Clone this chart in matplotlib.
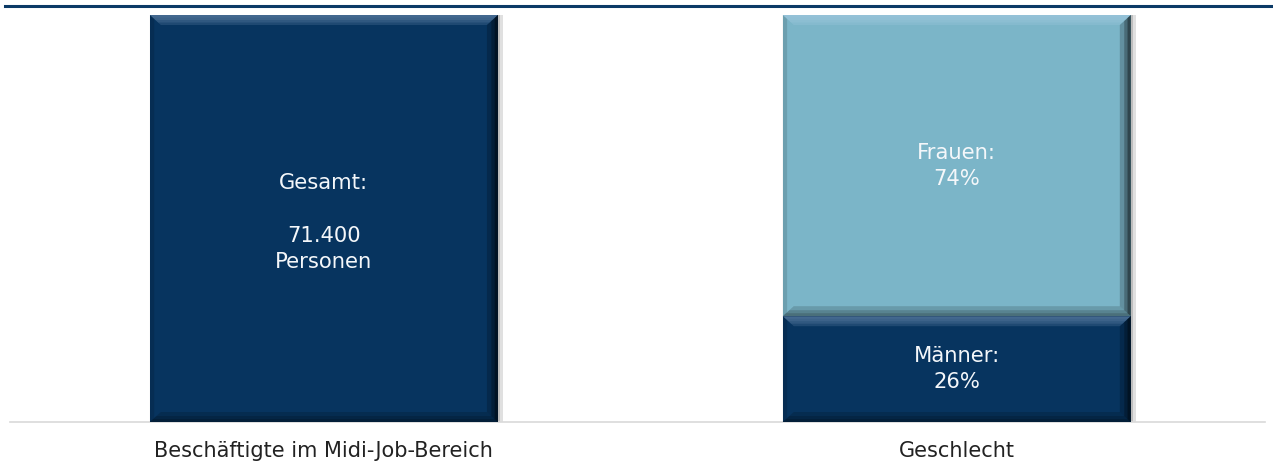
import matplotlib.pyplot as plt
from matplotlib.patches import Polygon, Rectangle
from matplotlib.lines import Line2D

# data
kategorien = ['Beschäftigte im Midi-Job-Bereich', 'Geschlecht']
gesamt = [100, 0]          # Anteil in %, linker Balken = alle
maenner = [0, 26]
frauen = [0, 74]
beschriftung_gesamt = 'Gesamt:\n\n71.400\nPersonen'
beschriftung_maenner = 'Männer:\n26%'
beschriftung_frauen = 'Frauen:\n74%'

navy = '#07345f'
hellblau = '#7bb5c8'

fig = plt.figure(figsize=(12.73, 4.67), dpi=100)
ax = fig.add_axes([10 / 1273, 45 / 467, 1255 / 1273, 407 / 467])

x = [0, 1]
breite = 0.55
b1 = ax.bar(x, gesamt, breite, color=navy, zorder=3)
b2 = ax.bar(x, maenner, breite, color=navy, zorder=3)
b3 = ax.bar(x, frauen, breite, bottom=maenner, color=hellblau, zorder=3)

ax.set_xlim(-0.496, 1.487)
ax.set_ylim(0, 100)

# bevel / shadow effect
px_x = 1.983 / 1255   # data units per pixel
px_y = 100 / 407


def bevel(rect):
    x0, y0 = rect.get_x(), rect.get_y()
    w, h = rect.get_width(), rect.get_height()
    if h <= 0:
        return
    x1, y1 = x0 + w, y0 + h
    bx, by = 11 * px_x, 10 * px_y
    # shadow right of the bar
    ax.add_patch(Rectangle((x1, y0), 5 * px_x, h, color='#000000', alpha=0.12, lw=0, zorder=2))
    ax.add_patch(Rectangle((x1, y0), 2.5 * px_x, h, color='#000000', alpha=0.15, lw=0, zorder=2))
    # top: lighter gradient
    for f, a in [(1.0, 0.12), (0.75, 0.10), (0.5, 0.08), (0.25, 0.05)]:
        ax.add_patch(Polygon([(x0, y1), (x1, y1), (x1 - bx * f, y1 - by * f), (x0 + bx * f, y1 - by * f)],
                             closed=True, color='#cfe3ff', alpha=a, lw=0, zorder=4))
    # bottom: darker
    for f, a in [(1.0, 0.15), (0.6, 0.15), (0.3, 0.15)]:
        ax.add_patch(Polygon([(x0, y0), (x1, y0), (x1 - bx * f, y0 + by * f), (x0 + bx * f, y0 + by * f)],
                             closed=True, color='#000000', alpha=a, lw=0, zorder=4))
    # right side: dark gradient
    for f, a in [(1.0, 0.2), (0.6, 0.25), (0.3, 0.35)]:
        ax.add_patch(Polygon([(x1, y0), (x1, y1), (x1 - bx * f, y1 - by * f), (x1 - bx * f, y0 + by * f)],
                             closed=True, color='#000000', alpha=a, lw=0, zorder=4))
    # left side: slightly dark edge
    ax.add_patch(Polygon([(x0, y0), (x0, y1), (x0 + bx * 0.4, y1 - by * 0.4), (x0 + bx * 0.4, y0 + by * 0.4)],
                         closed=True, color='#000000', alpha=0.12, lw=0, zorder=4))


for bars in (b1, b2, b3):
    for r in bars:
        bevel(r)

# texts inside bars
txt = dict(ha='center', va='center', color='#f4f7fa', fontsize=15.2, zorder=5, linespacing=1.38)
ax.text(x[0], gesamt[0] / 2 - 1.0, beschriftung_gesamt, **txt)
ax.text(x[1], maenner[1] / 2, beschriftung_maenner, **txt)
ax.text(x[1], maenner[1] + frauen[1] / 2, beschriftung_frauen, **txt)

# axis
for s in ['top', 'right', 'left']:
    ax.spines[s].set_visible(False)
ax.spines['bottom'].set_color('#d9d9d9')
ax.spines['bottom'].set_linewidth(1.2)
ax.set_yticks([])
ax.set_xticks(x)
ax.set_xticklabels(kategorien, fontsize=15, color='#222222')
ax.tick_params(axis='x', length=0, pad=14)

# top line
fig.add_artist(Line2D([5 / 1273, 1.0], [1 - 6 / 467, 1 - 6 / 467], color='#0b3a66', lw=2.2))

fig.savefig('out.png', dpi=100)
